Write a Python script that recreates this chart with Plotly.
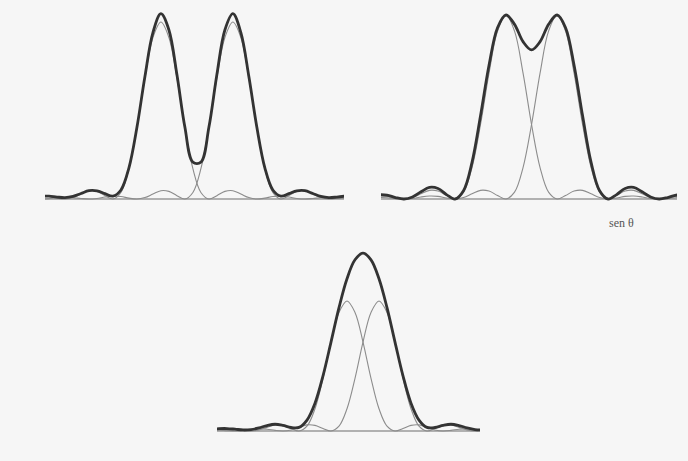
import plotly.graph_objects as go

# Single diffraction-peak intensity profile,
# sampled at offsets of 1/6 of the distance to the first minimum (k = 0..24)
profile_half = [1.000, 0.912, 0.684, 0.405, 0.171, 0.037, 0.000,
                0.019, 0.043, 0.047, 0.028, 0.008, 0.000,
                0.005, 0.014, 0.016, 0.011, 0.003, 0.000,
                0.003, 0.007, 0.008, 0.006, 0.002, 0.000]
profile = profile_half[:0:-1] + profile_half          # offsets -24..24
profile_offsets = list(range(-24, 25))

# Peak centres (in profile steps) for the three panels
p1_centers = [0, 9]   # well resolved
p2_centers = [0, 6]   # Rayleigh limit
p3_centers = [0, 4]   # unresolved
p1_grid = list(range(-15, 24))
p2_grid = list(range(-15, 22))
p3_grid = list(range(-17, 18))

def component(grid, c):
    lut = dict(zip(profile_offsets, profile))
    return [lut.get(x - c, 0.0) for x in grid]

W, H = 688, 461
panels = [
    dict(grid=p1_grid, centers=p1_centers, xd=(45, 344), xr=(-14.5, 22.9),
         yd=(0, 230), yr=(-31 / 177, 199 / 177)),
    dict(grid=p2_grid, centers=p2_centers, xd=(381, 677), xr=(-14.7, 20.1),
         yd=(0, 230), yr=(-31 / 184, 199 / 184)),
    dict(grid=p3_grid, centers=p3_centers, xd=(217, 480), xr=(-16.25, 16.625),
         yd=(230, 461), yr=(-30 / 130, 201 / 130)),
]

fig = go.Figure()
layout = dict(width=W, height=H, margin=dict(l=0, r=0, t=0, b=0),
              paper_bgcolor="#f6f6f6", plot_bgcolor="rgba(0,0,0,0)",
              showlegend=False)

for i, p in enumerate(panels, start=1):
    xa = "x" if i == 1 else f"x{i}"
    ya = "y" if i == 1 else f"y{i}"
    g = p["grid"]
    comps = [component(g, c) for c in p["centers"]]
    total = [a + b for a, b in zip(*comps)]
    # baseline
    fig.add_trace(go.Scatter(x=[p["xr"][0], p["xr"][1]], y=[0, 0], mode="lines",
                             line=dict(color="#9a9a9a", width=1.3),
                             xaxis=xa, yaxis=ya, hoverinfo="skip"))
    for cy in comps:
        fig.add_trace(go.Scatter(x=g, y=cy, mode="lines",
                                 line=dict(color="#8c8c8c", width=1.1, shape="spline"),
                                 xaxis=xa, yaxis=ya))
    fig.add_trace(go.Scatter(x=g, y=total, mode="lines",
                             line=dict(color="#333333", width=2.8, shape="spline"),
                             xaxis=xa, yaxis=ya))
    xkey = "xaxis" if i == 1 else f"xaxis{i}"
    ykey = "yaxis" if i == 1 else f"yaxis{i}"
    layout[xkey] = dict(domain=[p["xd"][0] / W, p["xd"][1] / W], range=list(p["xr"]),
                        visible=False, anchor=ya, fixedrange=True)
    layout[ykey] = dict(domain=[1 - p["yd"][1] / H, 1 - p["yd"][0] / H], range=list(p["yr"]),
                        visible=False, anchor=xa, fixedrange=True)

layout["annotations"] = [dict(text="sen θ", x=621 / W, y=1 - 223 / H, xref="paper", yref="paper",
                              showarrow=False, xanchor="center", yanchor="middle",
                              font=dict(family="Liberation Serif", size=12, color="#555555"))]
fig.update_layout(**layout)
fig.write_html("out.html", config={"displayModeBar": False},
               post_script="document.body.style.margin='0';document.body.style.background='#f6f6f6';")
